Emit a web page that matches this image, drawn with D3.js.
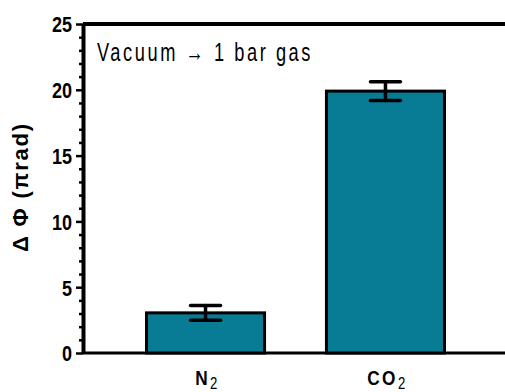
<!DOCTYPE html>
<html><head><meta charset="utf-8">
<script src="https://cdn.jsdelivr.net/npm/d3@7"></script>
<style>
html,body{margin:0;padding:0;background:#fff;}
svg{display:block;}
</style></head>
<body>
<script>
const categories = ["N", "CO"];
const subscripts = ["2", "2"];
const values = [3.05, 19.9];
const errors = [0.56, 0.72];
const yTicks = [0, 5, 10, 15, 20, 25];
const yLabel = "Δ Φ (πrad)";
const subtitle = "Vacuum → 1 bar gas";

const W = 505, H = 392;
const svg = d3.select("body").append("svg").attr("width", W).attr("height", H);
const font = "'Liberation Sans', Arial, sans-serif";
const SX = 0.82;

const y = d3.scaleLinear().domain([0, 25]).range([353, 24]);
const x = d3.scaleBand().domain(categories).range([83, 508]).paddingInner(0.344).paddingOuter(0.353);

// frame lines (top and bottom)
svg.append("line").attr("x1", 83).attr("x2", W).attr("y1", y(25)).attr("y2", y(25))
  .attr("stroke", "#000").attr("stroke-width", 4);
svg.append("line").attr("x1", 83).attr("x2", W).attr("y1", y(0)).attr("y2", y(0))
  .attr("stroke", "#000").attr("stroke-width", 3);

// bars
svg.selectAll("rect.bar").data(categories).enter().append("rect")
  .attr("class", "bar")
  .attr("x", d => x(d))
  .attr("width", x.bandwidth())
  .attr("y", (d, i) => y(values[i]))
  .attr("height", (d, i) => y(0) - y(values[i]))
  .attr("fill", "#087c95").attr("stroke", "#000").attr("stroke-width", 3);

// error bars
const capW = 30;
categories.forEach((c, i) => {
  const cx = x(c) + x.bandwidth() / 2;
  const g = svg.append("g").attr("stroke", "#000").attr("stroke-width", 3.5).attr("stroke-linecap", "round");
  g.append("line").attr("x1", cx).attr("x2", cx).attr("y1", y(values[i] + errors[i])).attr("y2", y(values[i] - errors[i]));
  g.append("line").attr("x1", cx - capW / 2).attr("x2", cx + capW / 2).attr("y1", y(values[i] + errors[i])).attr("y2", y(values[i] + errors[i]));
  g.append("line").attr("x1", cx - capW / 2).attr("x2", cx + capW / 2).attr("y1", y(values[i] - errors[i])).attr("y2", y(values[i] - errors[i]));
});

// y axis
const minor = d3.range(0, 26, 1).filter(v => v % 5 !== 0);
const axMinor = svg.append("g").attr("transform", "translate(83,0)")
  .call(d3.axisLeft(y).tickValues(minor).tickSize(4).tickFormat(""));
axMinor.select(".domain").remove();
axMinor.selectAll("line").attr("stroke-width", 2.5);
const ax = svg.append("g").attr("transform", "translate(83,0)")
  .call(d3.axisLeft(y).tickValues(yTicks).tickSize(7).tickPadding(4).tickSizeOuter(0));
ax.select(".domain").attr("stroke-width", 4);
ax.selectAll("line").attr("stroke-width", 2.5);
ax.selectAll("text").attr("font-family", font).attr("font-weight", "bold").attr("font-size", 22)
  .attr("fill", "#000").attr("dy", "0.36em")
  .attr("transform", `scale(${SX},1)`).attr("x", -11 / SX);

// y label
svg.append("text").attr("transform", "translate(28,187) rotate(-90)")
  .attr("text-anchor", "middle").attr("font-family", font)
  .attr("font-weight", "bold").attr("font-size", 22).attr("letter-spacing", 1.8).text(yLabel);

// subtitle
svg.append("g").attr("transform", `translate(97,61) scale(0.73,1)`)
  .append("text").attr("font-family", font)
  .attr("font-size", 25).attr("letter-spacing", 3.5).text(subtitle);

// x labels
categories.forEach((c, i) => {
  const t = svg.append("g").attr("transform", `translate(${x(c) + x.bandwidth() / 2 + 2},385) scale(${SX},1)`)
    .append("text")
    .attr("text-anchor", "middle").attr("font-family", font).attr("font-weight", "bold")
    .attr("font-size", 21).attr("letter-spacing", 3);
  t.append("tspan").text(c);
  t.append("tspan").attr("font-weight", "normal").attr("font-size", 16).attr("dy", 4).text(subscripts[i]);
});
</script>
</body></html>
